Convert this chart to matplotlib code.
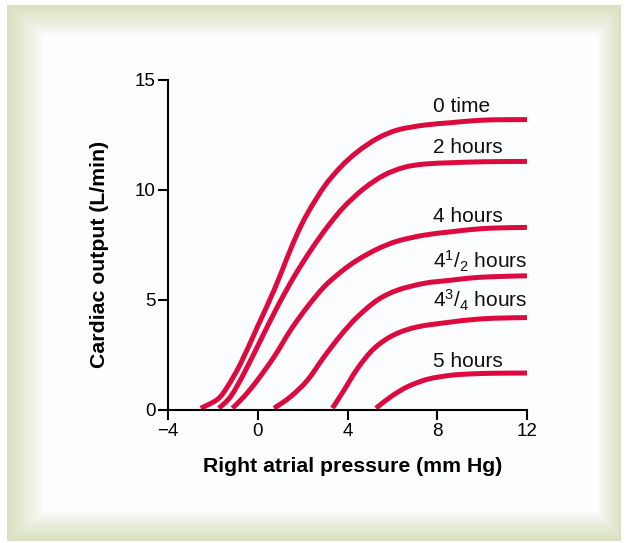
import numpy as np
import matplotlib
matplotlib.use("Agg")
import matplotlib.pyplot as plt
from matplotlib.path import Path
from matplotlib.patches import PathPatch

plt.rcParams['font.family'] = ['Liberation Sans', 'DejaVu Sans']
plt.rcParams['mathtext.fontset'] = 'custom'
plt.rcParams['mathtext.rm'] = 'Liberation Sans'
plt.rcParams['mathtext.it'] = 'Liberation Sans'

# ---- data ----
labels = ["0 time", "2 hours", "4 hours", r"4$^{1}$/$_{2}$ hours", r"4$^{3}$/$_{4}$ hours", "5 hours"]

x_0h = [-2.54, -1.80, -1.35, -0.76, -0.01, 0.73, 1.33, 1.77, 2.22, 2.96, 3.71, 4.45, 5.34, 6.24, 7.43, 8.62, 9.5, 10.5, 12.0]
y_0h = [0.08, 0.48, 1.06, 2.12, 3.79, 5.45, 6.97, 8.03, 8.94, 10.15, 11.06, 11.74, 12.35, 12.73, 12.95, 13.06, 13.14, 13.19, 13.2]

x_2h = [-1.73, -1.21, -0.61, 0.13, 0.88, 1.62, 2.37, 3.11, 3.85, 4.75, 5.64, 6.53, 7.43, 8.62, 9.5, 10.5, 12.0]
y_2h = [0.08, 0.61, 1.67, 3.18, 4.70, 6.06, 7.27, 8.33, 9.24, 10.08, 10.68, 11.03, 11.18, 11.24, 11.27, 11.29, 11.3]

x_4h = [-1.13, -0.61, -0.01, 0.73, 1.47, 2.22, 2.96, 3.71, 4.45, 5.34, 6.24, 7.43, 8.62, 9.5, 10.5, 12.0]
y_4h = [0.08, 0.61, 1.36, 2.42, 3.64, 4.70, 5.60, 6.28, 6.82, 7.32, 7.68, 7.95, 8.1, 8.2, 8.27, 8.3]

x_45h = [0.73, 1.47, 2.22, 2.96, 3.71, 4.45, 5.34, 6.24, 7.43, 8.62, 9.5, 10.5, 12.0]
y_45h = [0.08, 0.61, 1.36, 2.42, 3.41, 4.24, 5.00, 5.45, 5.76, 5.9, 6.0, 6.06, 6.1]

x_475h = [3.33, 3.85, 4.45, 5.19, 6.08, 7.13, 8.62, 9.5, 10.5, 12.0]
y_475h = [0.08, 0.91, 1.89, 2.80, 3.42, 3.78, 4.0, 4.1, 4.17, 4.2]

x_5h = [5.27, 5.94, 6.68, 7.58, 8.62, 9.5, 10.5, 12.0]
y_5h = [0.08, 0.61, 1.06, 1.4, 1.58, 1.64, 1.67, 1.68]

label_x = [7.8, 7.8, 7.8, 7.8, 7.8, 7.8]
label_y = [13.53, 11.67, 8.56, 6.44, 4.65, 1.97]

xticks = [-4, 0, 4, 8, 12]
xticklabels = ["\u22124", "0", "4", "8", "12"]
yticks = [0, 5, 10, 15]

series = [(x_0h, y_0h), (x_2h, y_2h), (x_4h, y_4h), (x_45h, y_45h), (x_475h, y_475h), (x_5h, y_5h)]


def smooth_path(xs, ys):
    """Cubic Bezier path passing through every read point (Catmull-Rom tangents)."""
    p = np.column_stack([xs, ys]).astype(float)
    n = len(p)
    verts = [p[0]]
    codes = [Path.MOVETO]
    for i in range(n - 1):
        p0 = p[i - 1] if i > 0 else p[i]
        p1, p2 = p[i], p[i + 1]
        p3 = p[i + 2] if i + 2 < n else p[i + 1]
        c1 = p1 + (p2 - p0) / 6.0
        c2 = p2 - (p3 - p1) / 6.0
        verts += [c1, c2, p2]
        codes += [Path.CURVE4] * 3
    return Path(verts, codes)


W, H = 629, 543
fig = plt.figure(figsize=(W / 100, H / 100), dpi=100)
fig.patch.set_facecolor("white")

# ---- background frame with soft gradient border ----
bg = fig.add_axes([0, 0, 1, 1])
bg.set_xlim(0, W)
bg.set_ylim(H, 0)
bg.axis("off")
ox0, oy0, ox1, oy1 = 7, 5, 621, 541
ix0, iy0, ix1, iy1 = 43, 35, 598, 512
xx, yy = np.meshgrid(np.arange(ox0, ox1) + 0.5, np.arange(oy0, oy1) + 0.5)
tx = np.maximum(np.clip((ix0 - xx) / (ix0 - ox0), 0, 1), np.clip((xx - ix1) / (ox1 - ix1), 0, 1))
ty = np.maximum(np.clip((iy0 - yy) / (iy0 - oy0), 0, 1), np.clip((yy - iy1) / (oy1 - iy1), 0, 1))
t = np.maximum(tx, ty) ** 0.8
inner = np.array([252, 253, 254]) / 255
outer = np.array([216, 225, 190]) / 255
img = inner[None, None, :] * (1 - t[..., None]) + outer[None, None, :] * t[..., None]
bg.imshow(img, extent=(ox0, ox1, oy1, oy0), interpolation="bilinear", zorder=0)

# ---- main axes ----
ax = fig.add_axes([168 / W, 1 - 410 / H, (527 - 168) / W, (410 - 80) / H])
ax.set_facecolor("none")
color = "#dc0a3f"
for (xs, ys) in series:
    patch = PathPatch(smooth_path(xs, ys), facecolor="none", edgecolor=color,
                      lw=3.6, capstyle="butt", joinstyle="round", clip_on=False)
    ax.add_patch(patch)
for lab, lx, ly in zip(labels, label_x, label_y):
    ax.text(lx, ly, lab, fontsize=15, ha="left", va="baseline", color="#111111")

ax.set_xlim(-4, 12)
ax.set_ylim(0, 15)
ax.set_xticks(xticks)
ax.set_xticklabels(xticklabels)
ax.set_yticks(yticks)
for s in ["top", "right"]:
    ax.spines[s].set_visible(False)
for s in ["left", "bottom"]:
    ax.spines[s].set_linewidth(1.5)
    ax.spines[s].set_color("black")
ax.tick_params(direction="out", length=7, width=1.5, labelsize=13.5, pad=2, colors="black")
ax.set_xlabel("Right atrial pressure (mm Hg)", fontsize=15.3, fontweight="bold")
ax.set_ylabel("Cardiac output (L/min)", fontsize=15.3, fontweight="bold")
ax.xaxis.set_label_coords(0.513, -0.143)
ax.yaxis.set_label_coords(-0.165, 0.47)

fig.savefig("out.png", dpi=100, facecolor="white")
